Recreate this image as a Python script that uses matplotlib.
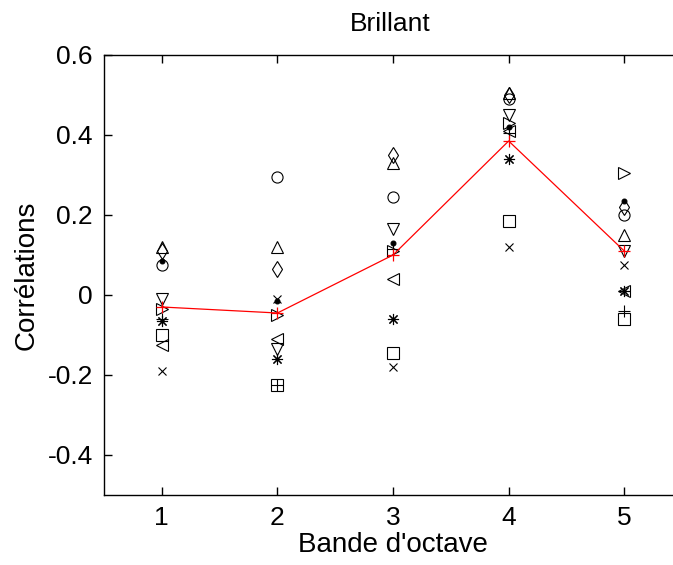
import matplotlib.pyplot as plt
import numpy as np

plt.rcParams['font.family'] = ['Liberation Sans', 'DejaVu Sans']

bands = [1, 2, 3, 4, 5]

# one series per marker (correlation per octave band)
corr_o = [0.075, 0.295, 0.245, 0.49, 0.20]
corr_x = [-0.19, -0.01, -0.18, 0.12, 0.075]
corr_plus = [-0.06, -0.225, 0.115, 0.405, -0.04]
corr_star = [-0.065, -0.16, -0.06, 0.34, 0.01]
corr_s = [-0.10, -0.225, -0.145, 0.185, -0.06]
corr_d = [0.11, 0.065, 0.35, 0.50, 0.22]
corr_v = [-0.01, -0.135, 0.165, 0.45, 0.11]
corr_up = [0.12, 0.12, 0.33, 0.505, 0.15]
corr_left = [-0.125, -0.11, 0.04, 0.41, 0.01]
corr_right = [-0.035, -0.05, 0.11, 0.43, 0.305]
corr_dot = [0.085, -0.015, 0.13, 0.42, 0.235]

mean_corr = [-0.03, -0.045, 0.10, 0.385, 0.11]

# matlab-like asterisk
asterisk = (8, 2, 0)

series = [
    (corr_o, 'o', 8), (corr_x, 'x', 6), (corr_plus, '+', 9),
    (corr_star, asterisk, 8), (corr_s, 's', 8), (corr_d, 'd', 8),
    (corr_v, 'v', 9), (corr_up, '^', 9), (corr_left, '<', 9),
    (corr_right, '>', 9), (corr_dot, '.', 7),
]

fig = plt.figure(figsize=(6.73, 5.65), dpi=100)
# the box runs past the right edge of the picture, as in the original
ax = fig.add_axes([104 / 673, (565 - 495) / 565, 600 / 673, 440 / 565])

for vals, m, ms in series:
    filled = m == '.'
    ax.plot(bands, vals, linestyle='none', marker=m, markersize=ms,
            markeredgecolor='black', markerfacecolor='black' if filled else 'none',
            markeredgewidth=0.8)

ax.plot(bands, mean_corr, color='red', linewidth=0.9, marker='+', markersize=9,
        markeredgewidth=0.9)

ax.set_xlim(0.5, 5.5 + 22 / 116)
ax.set_ylim(-0.5, 0.6)
ax.set_xticks(bands)
yt = [-0.4, -0.2, 0, 0.2, 0.4, 0.6]
ax.set_yticks(yt)
ax.set_yticklabels(['-0.4', '-0.2', '0', '0.2', '0.4', '0.6'])
ax.tick_params(direction='in', length=6, width=1, top=True, right=False,
               labelsize=19, pad=8)
ax.spines['right'].set_visible(False)
for sp in ax.spines.values():
    sp.set_linewidth(1)

ax.set_xlabel("Bande d'octave", fontsize=20)
ax.xaxis.set_label_coords(0.482, -0.083)
ax.set_ylabel("Corrélations", fontsize=20, labelpad=6)
ax.set_title("Brillant", fontsize=19, pad=17, x=0.477)

fig.savefig('out.png', dpi=100)
